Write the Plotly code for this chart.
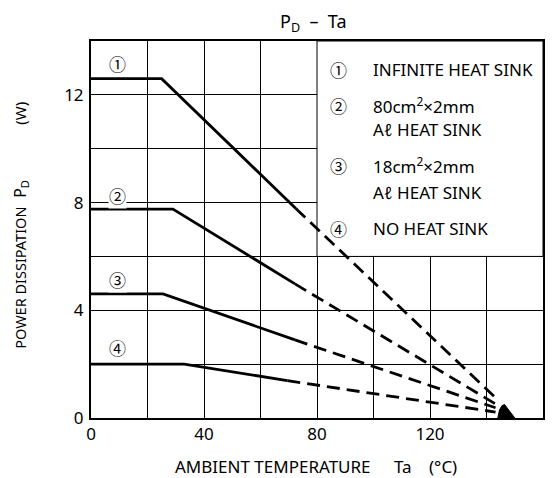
import plotly.graph_objects as go

# ---- data ----
curve_ids = ["①", "②", "③", "④"]
solid_x = [[0, 25, 72.5], [0, 29, 72.2], [0, 25.5, 72.2], [0, 33, 69.5]]
solid_y = [[12.6, 12.6, 7.78], [7.76, 7.76, 4.98], [4.61, 4.61, 2.9], [2.0, 2.0, 1.39]]
dash_x = [[72.5, 143.5], [72.2, 143.2], [72.2, 143.2], [69.5, 143.2]]
dash_y = [[7.78, 0.72], [4.98, 0.52], [2.9, 0.38], [1.39, 0.22]]

label_x = [9.5, 9.5, 9.5, 9.5]
label_y = [13.15, 8.26, 5.16, 2.63]

arrow_x = [144.0, 144.6, 145.5, 146.4, 150.0, 144.0]
arrow_y = [0.0, 0.3, 0.46, 0.5, 0.0, 0.0]

legend_rows = ["INFINITE HEAT SINK", "80cm<sup>2</sup>×2mm", "Aℓ HEAT SINK",
               "18cm<sup>2</sup>×2mm", "Aℓ HEAT SINK", "NO HEAT SINK"]
legend_row_marks = ["①", "②", "", "③", "", "④"]
legend_row_y = [12.96, 11.62, 10.73, 9.36, 8.36, 7.02]

x_ticks = [0, 40, 80, 120, 160]
y_ticks = [0, 4, 8, 12]

FONT = "Noto Sans, DejaVu Sans, Noto Sans CJK JP, sans-serif"
CIRC_FONT = "Noto Sans CJK JP, DejaVu Sans, sans-serif"
W, H = 555, 478
L, R, T, B = 91, 10, 41, 60
PW, PH = W - L - R, H - T - B


def px_paper(px, py):
    return (px - L) / PW, (H - B - py) / PH


fig = go.Figure()

for i in range(4):
    fig.add_trace(go.Scatter(x=solid_x[i], y=solid_y[i], mode="lines",
                             line=dict(color="black", width=2.8),
                             showlegend=False, hoverinfo="skip"))
    fig.add_trace(go.Scatter(x=dash_x[i], y=dash_y[i], mode="lines",
                             line=dict(color="black", width=2.8, dash="13px,7px"),
                             showlegend=False, hoverinfo="skip"))

fig.add_trace(go.Scatter(x=arrow_x, y=arrow_y, mode="lines", fill="toself",
                         fillcolor="black", line=dict(color="black", width=1),
                         showlegend=False, hoverinfo="skip"))

# legend box
fig.add_shape(type="rect", x0=80, x1=160, y0=6, y1=14, xref="x", yref="y",
              fillcolor="white", line=dict(color="black", width=1), layer="between")

txtfont = dict(size=17, family=FONT, color="black")
circfont = dict(size=17, family=CIRC_FONT, color="black")
annotations = []
for i in range(4):
    annotations.append(dict(x=label_x[i], y=label_y[i], xref="x", yref="y",
                            xanchor="center", yanchor="middle",
                            text=curve_ids[i], showarrow=False, bgcolor="white",
                            borderpad=0, font=circfont))

for i, txt in enumerate(legend_rows):
    if legend_row_marks[i]:
        annotations.append(dict(x=87.7, y=legend_row_y[i], xref="x", yref="y",
                                xanchor="center", yanchor="middle",
                                text=legend_row_marks[i], showarrow=False, font=circfont))
    annotations.append(dict(x=99.0, y=legend_row_y[i], xref="x", yref="y",
                            text=txt, showarrow=False, xanchor="left", yanchor="middle",
                            font=txtfont))

# pixel-positioned texts (title and axis titles)
pix_texts = [
    (314, 22, "P<sub>D</sub>\u00a0\u00a0\u2013\u00a0\u00a0Ta", 0, 18),
    (273.5, 466, "AMBIENT TEMPERATURE", 0, 17),
    (404, 466, "Ta", 0, 17),
    (445, 466, "(°C)", 0, 17),
    (19.5, 278, "POWER DISSIPATION", -90, 14.5),
    (19.5, 189, "P<sub>D</sub>", -90, 16),
    (19.5, 113, "(W)", -90, 15),
]
for px, py, txt, ang, sz in pix_texts:
    xp, yp = px_paper(px, py)
    annotations.append(dict(x=xp, y=yp, xref="paper", yref="paper", text=txt,
                            xanchor="center", yanchor="middle",
                            showarrow=False, textangle=ang,
                            font=dict(size=sz, family=FONT, color="black")))

fig.update_layout(
    width=W, height=H,
    margin=dict(l=L, r=R, t=T, b=B),
    paper_bgcolor="white", plot_bgcolor="white",
    font=dict(family=FONT, size=17, color="black"),
    annotations=annotations,
    showlegend=False,
)

fig.update_xaxes(range=[0, 160], tickvals=x_ticks, ticktext=[str(v) for v in x_ticks],
                 showgrid=True, gridcolor="black", gridwidth=1,
                 minor=dict(dtick=20, tick0=0, showgrid=True, gridcolor="black", gridwidth=1),
                 showline=True, linecolor="black", linewidth=2, mirror=True,
                 ticks="", zeroline=False, tickfont=txtfont)
fig.update_yaxes(range=[0, 14], tickvals=y_ticks, ticktext=[str(v) for v in y_ticks],
                 showgrid=True, gridcolor="black", gridwidth=1,
                 minor=dict(dtick=2, tick0=0, showgrid=True, gridcolor="black", gridwidth=1),
                 showline=True, linecolor="black", linewidth=2, mirror=True,
                 ticks="", zeroline=False, ticklabelstandoff=2, tickfont=txtfont)

fig.write_html("out.html", config={"displayModeBar": False},
               post_script="document.body.style.margin='0px';document.body.style.overflow='hidden';")
